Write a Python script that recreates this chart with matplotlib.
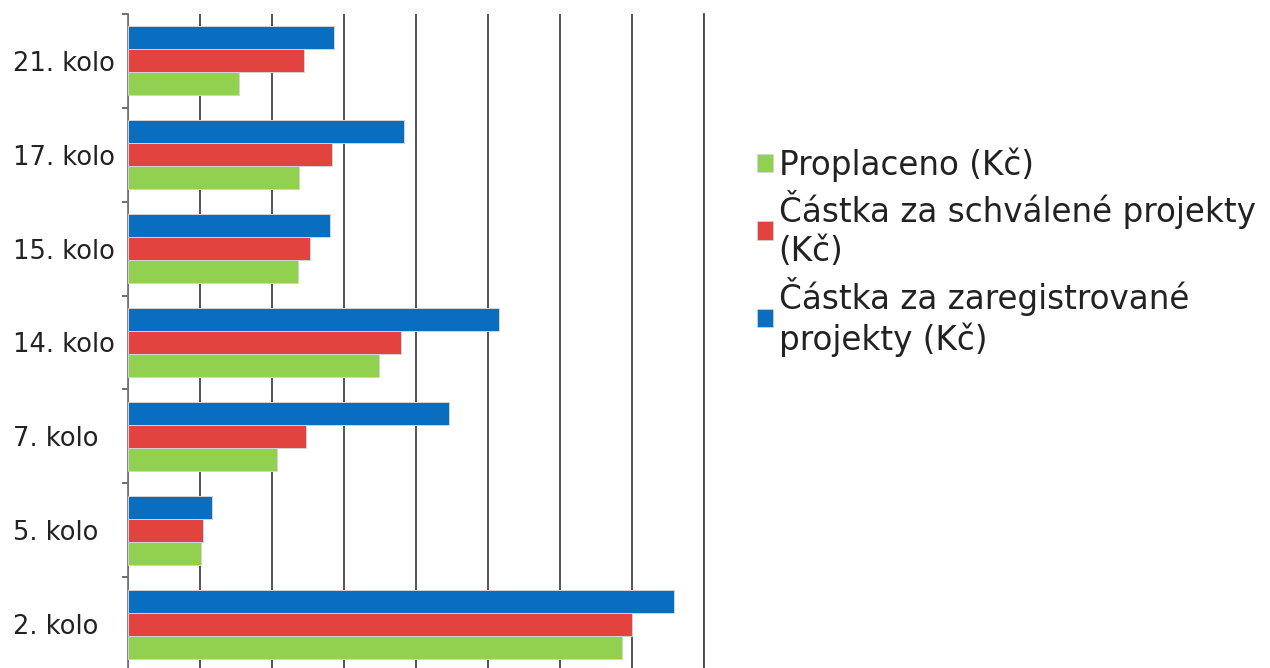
import matplotlib
matplotlib.use("Agg")
import matplotlib.pyplot as plt
from matplotlib.patches import Patch
import numpy as np

# ---- data (unit = one grid step) ----
rounds = ["2. kolo", "5. kolo", "7. kolo", "14. kolo", "15. kolo", "17. kolo", "21. kolo"]
proplaceno = [6.86, 1.02, 2.07, 3.49, 2.36, 2.38, 1.54]
schvalene = [7.00, 1.04, 2.47, 3.79, 2.53, 2.83, 2.44]
zaregistrovane = [7.58, 1.17, 4.46, 5.15, 2.81, 3.83, 2.86]
series_labels = ["Proplaceno (Kč)", "Částka za schválené projekty\n(Kč)", "Částka za zaregistrované\nprojekty (Kč)"]
colors = ["#92D050", "#E2433F", "#0A6EC0"]

plt.rcParams.update({"font.family": ["DejaVu Sans"]})
W, H = 1270, 668
fig = plt.figure(figsize=(W / 100, H / 100), dpi=100)
ax = fig.add_axes([128 / W, (H - 671) / H, (704 - 128) / W, (671 - 14) / H])

y = np.arange(len(rounds))
bh = 0.245
for off, vals, c in zip((-bh, 0, bh), (proplaceno, schvalene, zaregistrovane), colors):
    ax.barh(y + off, vals, height=bh, color=c, edgecolor="#d4d4d4", linewidth=0.7, zorder=3)

ax.set_xlim(0, 8)
ax.set_ylim(-0.5, len(rounds) - 0.5)
ax.set_xticks(np.arange(0, 9))
ax.xaxis.grid(True, color="#454545", lw=1.3, zorder=0)
ax.tick_params(axis="x", length=0, labelbottom=False)
ax.set_yticks(y)
ax.set_yticklabels(rounds, fontsize=18.5, color="#222222")
for t in ax.get_yticklabels():
    t.set_ha("left")
ax.tick_params(axis="y", which="major", length=0, pad=(128 - 13) * 0.72)
ax.set_yticks(np.arange(-0.5, len(rounds)), minor=True)
ax.tick_params(axis="y", which="minor", length=4.5, width=1.2, color="#555555")
for s in ("top", "bottom"):
    ax.spines[s].set_visible(False)
ax.spines["left"].set_color("#777777")
ax.spines["left"].set_linewidth(1.3)
ax.spines["right"].set_color("#454545")
ax.spines["right"].set_linewidth(1.3)

handles = [Patch(facecolor=c, edgecolor="#d4d4d4", linewidth=0.5) for c in colors]
leg = fig.legend(handles, series_labels, loc="upper left", bbox_to_anchor=(757 / W, 1 - 147 / H),
                 frameon=False, fontsize=23.5, handlelength=0.5, handleheight=0.5, handletextpad=0.16,
                 labelspacing=0.26, borderaxespad=0, borderpad=0, labelcolor="#222222")
for t in leg.get_texts():
    t.set_linespacing(1.24)

fig.savefig("out.png", dpi=100)
